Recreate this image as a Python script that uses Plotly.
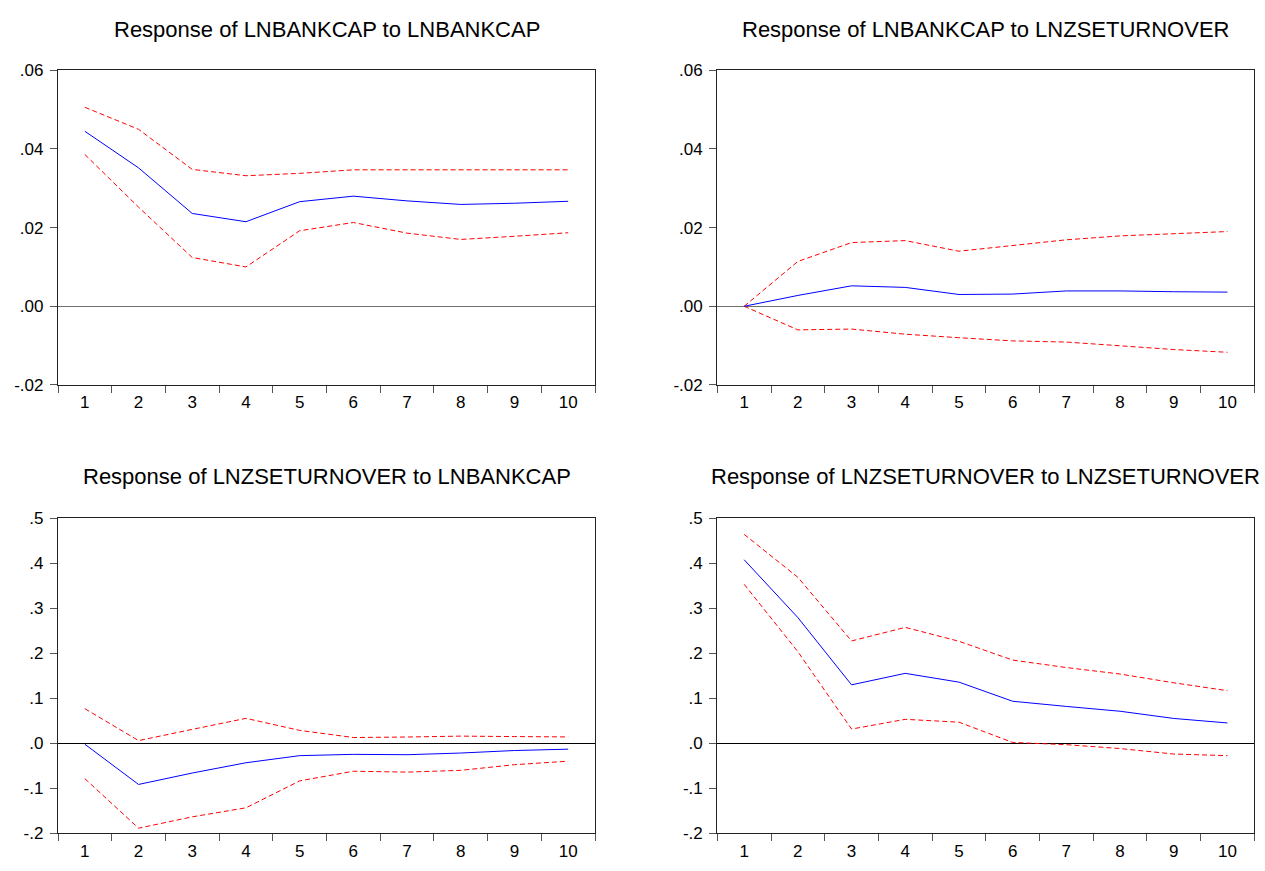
import plotly.graph_objects as go

W, H = 1265, 871
periods = [str(i) for i in range(1, 11)]

# Panel 1: Response of LNBANKCAP to LNBANKCAP
p1_mid = [0.0445, 0.0352, 0.0236, 0.0215, 0.0266, 0.0280, 0.0268, 0.0259, 0.0262, 0.0267]
p1_up = [0.0506, 0.0450, 0.0348, 0.0332, 0.0338, 0.0347, 0.0347, 0.0347, 0.0347, 0.0347]
p1_lo = [0.0386, 0.0252, 0.0124, 0.0100, 0.0192, 0.0213, 0.0186, 0.0170, 0.0178, 0.0187]

# Panel 2: Response of LNBANKCAP to LNZSETURNOVER
p2_mid = [0.0, 0.00275, 0.0052, 0.0048, 0.0030, 0.0031, 0.0039, 0.0039, 0.0037, 0.0036]
p2_up = [0.0, 0.0114, 0.0162, 0.0167, 0.0140, 0.0155, 0.0169, 0.0179, 0.0184, 0.0190]
p2_lo = [0.0, -0.0060, -0.0058, -0.0071, -0.0080, -0.0088, -0.0091, -0.0100, -0.0110, -0.0117]

# Panel 3: Response of LNZSETURNOVER to LNBANKCAP
p3_mid = [-0.002, -0.0914, -0.066, -0.0432, -0.0274, -0.0245, -0.0253, -0.0216, -0.0160, -0.0130]
p3_up = [0.077, 0.006, 0.031, 0.0555, 0.0288, 0.0129, 0.0140, 0.0160, 0.0150, 0.0142]
p3_lo = [-0.0785, -0.1886, -0.1634, -0.1433, -0.0835, -0.0620, -0.0640, -0.0600, -0.0475, -0.0397]

# Panel 4: Response of LNZSETURNOVER to LNZSETURNOVER
p4_mid = [0.408, 0.2795, 0.130, 0.1555, 0.136, 0.0935, 0.082, 0.0713, 0.0553, 0.0453]
p4_up = [0.4644, 0.369, 0.2275, 0.2577, 0.2268, 0.185, 0.1684, 0.154, 0.1345, 0.117]
p4_lo = [0.3535, 0.2037, 0.0317, 0.0533, 0.047, 0.002, -0.003, -0.0116, -0.0238, -0.0274]

titles = [
    "Response of LNBANKCAP to LNBANKCAP",
    "Response of LNBANKCAP to LNZSETURNOVER",
    "Response of LNZSETURNOVER to LNBANKCAP",
    "Response of LNZSETURNOVER to LNZSETURNOVER",
]

top_yvals = [-0.02, 0.0, 0.02, 0.04, 0.06]
top_ytext = ["-.02", ".00", ".02", ".04", ".06"]
bot_yvals = [-0.2, -0.1, 0.0, 0.1, 0.2, 0.3, 0.4, 0.5]
bot_ytext = ["-.2", "-.1", ".0", ".1", ".2", ".3", ".4", ".5"]

panels = [
    (p1_mid, p1_up, p1_lo),
    (p2_mid, p2_up, p2_lo),
    (p3_mid, p3_up, p3_lo),
    (p4_mid, p4_up, p4_lo),
]

# pixel boxes (left, right, top, bottom)
boxes = [
    (58, 595, 62.7, 384.3),
    (717.3, 1254.3, 62.7, 384.3),
    (58, 595, 520.7, 842.7),
    (717.3, 1254.3, 520.7, 842.7),
]

fig = go.Figure()
FONT = "Liberation Sans, Arial, sans-serif"
layout = dict(
    width=W, height=H,
    margin=dict(l=0, r=0, t=0, b=0),
    paper_bgcolor="white", plot_bgcolor="white",
    showlegend=False,
    font=dict(family=FONT, color="black", size=17),
)

annotations = []
for i, ((mid, up, lo), (l, r, t, b)) in enumerate(zip(panels, boxes)):
    n = i + 1
    xa = "x" if n == 1 else f"x{n}"
    ya = "y" if n == 1 else f"y{n}"
    for ser, color, dash in [(up, "#FF0000", "5px,3px"), (lo, "#FF0000", "5px,3px"), (mid, "#0000FF", "solid")]:
        fig.add_trace(go.Scatter(x=periods, y=ser, mode="lines",
                                 line=dict(color=color, width=1, dash=dash),
                                 xaxis=xa, yaxis=ya, hoverinfo="skip"))
    top = i < 2
    xkey = "xaxis" if n == 1 else f"xaxis{n}"
    ykey = "yaxis" if n == 1 else f"yaxis{n}"
    layout[xkey] = dict(
        domain=[l / W, r / W], anchor=ya, type="category",
        range=[-0.5, 9.5], tickson="boundaries", ticks="outside", ticklen=7,
        tickcolor="#555555", tickwidth=1, ticklabelstandoff=2,
        showline=True, linecolor="#222222", linewidth=1.3, mirror=True,
        showgrid=False, zeroline=False, tickfont=dict(size=17, family=FONT),
        fixedrange=True,
    )
    layout[ykey] = dict(
        domain=[1 - b / H, 1 - t / H], anchor=xa,
        range=[-0.02, 0.06] if top else [-0.2, 0.5],
        tickmode="array",
        tickvals=top_yvals if top else bot_yvals,
        ticktext=top_ytext if top else bot_ytext,
        ticks="outside", ticklen=7, tickcolor="#555555", tickwidth=1,
        ticklabelstandoff=3,
        showline=True, linecolor="#222222", linewidth=1.3, mirror=True,
        showgrid=False, zeroline=True,
        zerolinecolor="#707070" if top else "#000000", zerolinewidth=1,
        tickfont=dict(size=17, family=FONT),
        fixedrange=True,
    )
    annotations.append(dict(
        text=titles[i], xref="paper", yref="paper",
        x=((l + r) / 2) / W, y=1 - (20.7 if top else 478) / H,
        xanchor="center", yanchor="middle", showarrow=False,
        font=dict(size=22, family=FONT, color="black"),
    ))

layout["annotations"] = annotations
fig.update_layout(**layout)
fig.write_html("out.html")
